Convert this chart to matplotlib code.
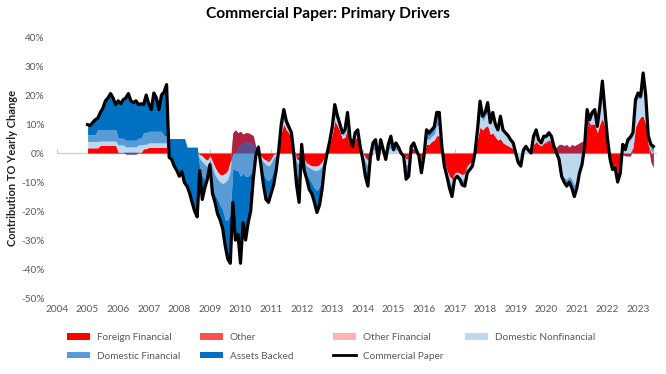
import numpy as np
import matplotlib
matplotlib.use("Agg")
import matplotlib.pyplot as plt
from matplotlib.patches import Patch
from matplotlib.lines import Line2D

plt.rcParams['font.family'] = ['Lato', 'DejaVu Sans']

start_year = 2005  # monthly observations from Jan 2005

commercial_paper = [
    9.8, 9.5, 10.5, 11.5, 12, 14, 15.5, 18, 19, 20.5, 19, 16.7,
    18, 17, 18.4, 19, 20.5, 18, 17.4, 18, 16.7, 17, 16.7, 20,
    17, 15, 20.7, 19, 15, 20, 21, 23.6, -1.5, -2.2, -4.5, -6,
    -8, -6.4, -10.2, -11.4, -13.7, -17, -20, -22, -6, -16, -12, -9,
    -4, -14, -17, -21, -23, -26, -32, -36.5, -38, -17, -30, -28,
    -38, -24, -30, -24, -20, -9, -1, 2, -4, -11, -16, -17,
    -14, -11, -6, 1, 10, 15, 11, 9, 7, -1, -11, -17,
    3, -6, -9, -12.6, -14, -17, -20.5, -18, -12.6, -4.5, 0, 4,
    9, 16.7, 13, 10, 7, 8, 14, 5, 2.3, 7, 8, 2,
    -2.2, -8, -11.4, -1, 3.5, 4.6, -2.2, 4.6, 1.2, -2.2, 3, 5.8,
    1.2, 3.5, 2, 0, -1, -9, -8, 2.3, 3.5, 1, -1, -6.8,
    -1, 8, 7, 8, 9, 14, 14, 2.3, -4.5, -8, -12, -15,
    -9, -8, -9, -11, -11.4, -6.8, -5.7, -4.5, 0, 8, 17.9, 12.7,
    14, 17.4, 10.5, 14, 10, 8, 12.7, 8, 7, 6, 4.6, 3.5,
    0, -3.3, -4.5, 1, 2.3, 1, 0, 5.8, 8, 4.6, 3.5, 5.8,
    5.8, 7, 5.8, 2.3, 0, -2.2, -8, -10, -11.4, -10, -12, -15,
    -12, -7, -4, 2, 15, 11.5, 14, 15, 9.2, 16, 24.8, 15,
    5, -2, -5.7, -5, -10, -7, 3, 1.2, 4.6, 5.5, 7, 18.4,
    20.7, 19.5, 27.6, 20, 6, 3, 2.3,
]

foreign_financial = [
    1.8, 1.8, 1.8, 1.8, 1.8, 2.7, 2.7, 2.7, 2.7, 2.7, 2.7, 2.7,
    0.3, 0.3, 0.3, 0.3, 0.3, 0.3, 0.3, 0.3, 0.3, 0.3, 1.5, 1.5,
    2, 2, 2, 2, 2, 2, 2, 2, 0, 0, 0, 0,
    0, 0, 0, 0, 0, 0, 0, 0, -0.5, -1, -2, -2.5,
    -1, -3, -5, -6.5, -7.5, -7.5, -7, -6, -3, 0, 0, 0,
    0, 0, 0, 0, 0, 0, 0, 0, -1, -2, -2.5, -2,
    -1, -0.5, 0, 1, 7, 10, 8, 7, 5, 1, -1, -1,
    0, -2, -3, -4, -4.5, -4.5, -4.5, -4, -3, -1, 0.5, 3,
    6.5, 11, 9.5, 7.5, 5, 5.5, 9, 3.5, 2, 5, 5.5, 1.5,
    0, 0, 0, 0, 0, 0, 0, 0, 0, 0, 0, 0,
    0, 0, 0, 0, 0, -1, -1, 0, 0, 0, -0.5, -1.5,
    -0.5, 3, 3, 4, 4.5, 6, 6, 1.5, -3, -6, -8, -9,
    -7, -6.5, -7, -7.5, -6, -4, -3.5, -3, 0, 5, 9, 8,
    9, 9.5, 6.5, 7, 5.5, 4.5, 5, 3.5, 3, 2.5, 2, 1.5,
    0, 0, 0, 0, 0, 0, 0, 3, 4, 3, 2.5, 3.5,
    3.5, 4, 3.5, 1.5, 0, 0, 0, 0, 0, 0, 0, 0,
    0, 0, 0, 0, 10, 9, 10, 10, 7, 10, 12, 9,
    4, -1.5, -4.5, -4, -6.5, -5, 0, 0, 0, 0, 2, 9,
    11, 12.5, 12.7, 10, 3, 0, 0,
]

other_financial = [
    0, 0, 0, 0, 0, 0, 0, 0, 0, 0, 0, 0,
    0, 0, 0, -0.7, -0.7, -0.7, -0.7, -0.7, 0, 0, 0, 0,
    0, 0, 0, 0, 0, 0, 0, 0, 0, 0, 0, 0,
    0, 0, 0, 0, 0, 0, 0, 0, 0, 0, 0, 0,
    0, 0, 0, 0, 0, 0, 0, 0, 0, 0, 0, 2,
    3, 3.5, 4, 4, 3.5, 3, 1, 0, 0, 0, 0, 0,
    0, 0, 0, 0, 0, 0, 0, 0, 0, 0, 0, 0,
    0, 0, 0, 0, 0, 0, 0, 0, 0, 0, 0, 0,
    0, 0, 0, 0, 0, 0, 0, 0, 0, 0, 0, 0,
    0, 0, 0, 0, 0, 0, 0, 0, 0, 0, 0, 0,
    0, 0, 0, 0, 0, 0, 0, 0, 0, 0, 0, 0,
    0, 0, 0, 0, 0, 0, 0, 0, 0, 0, 0, 0,
    0, 0, 0, 0, 0, 0, 0, 0, 0, 0, 0, 0,
    0, 0, 0, 0, 0, 0, 0, 0, 0, 0, 0, 0,
    0, 0, 0, 0, 0, 0, 0, 0, 0, 0, 0, 0,
    0, 0, 0, 0, 0, 0, 0, 0, 0, 0, 0, 0,
    0, 0, 0, 0, 0, 0, 0, 0, 0, 0, 0, 0,
    0, 0, -0.5, -0.5, -2, -1, 0, 0, 0, 0, 0, 0,
    0, 0, 0, 0, 0, 0, 0,
]

other = [
    0, 0, 0, 0, 0, 0, 0, 0, 0, 0, 0, 0,
    0, 0, 0, 0, 0, 0, 0, 0, 0, 0, 0, 0,
    0, 0, 0, 0, 0, 0, 0, 0, 0, 0, 0, 0,
    0, 0, 0, 0, 0, 0, 0, 0, 0, 0, 0, 0,
    0, 0, 0, 0, 0, 0, 0, 0, 0, 7, 8, 5,
    4.5, 3, 3, 3, 3, 3, 1, 0, 0, 0, 0, -1,
    -1, 0, 0, 0, 0, 0, 0, 0, 0, 0, -1, -1.5,
    0, -0.5, -0.5, 0, 0, 0, 0, 0, 0, -0.5, 0, 0,
    0, 0, 0, 0, 0, 0, 0, 0, 0, 0, 0, 0,
    0, -1.5, -2.5, -1.5, 0, 0, -1, 0, 0, -0.5, 0, 0,
    0, 0, 0, -0.5, -0.8, -1, -1, 1.5, 1.5, 0.5, 0, -1,
    0, 0, 0, 0, 0, 0, 0, 0, 0, 0, 0, 0,
    0, 0, 0, 0, -1, -0.5, 0, 0, 0, 0, 0, 0,
    0, 0, 0, 0, 0, 0, 0, 0, 0, 0, 0, 0,
    0, 0, 0, 0, 0, 0, 0, 0, 0, 0, 0, 0,
    0.5, 0.5, 0.5, 0.5, 2, 3, 3, 2.5, 3, 2, 3, 2.5,
    3, 3.5, 4, 4, 4, 1, 0, 0, 0, 0, 0, 0,
    0, 0, 0, 0, 0, 0, -0.5, -1, -1, -1, -0.5, 0,
    0, 0, 0, 0, 0, -3, -5,
]

domestic_nonfinancial = [
    2.2, 2.2, 2.2, 2.2, 2.2, 1.4, 1.4, 1.4, 1.4, 1.4, 1.4, 1.4,
    2.5, 2.5, 2.5, 2.5, 2.5, 2.5, 2.5, 2.5, 2.5, 2.5, 1.5, 1.5,
    1.5, 1.5, 1.5, 1.5, 1.5, 1.5, 1.5, 1.5, 0, 0, 0, 0,
    0, 0, 0, 0, 0, 0, 0, 0, -1.5, -2, -2, -2,
    -1, -2, -2.5, -2.5, -2.5, -3, -3, -3, -3, 0, 0, 0,
    0, 0, 0, 0, 0, 0, 0, 1, -1, -1, -1.5, -1.5,
    -1.5, -1, -1, 0, 1, 1.5, 1, 1, 1, 0, -1, -1.5,
    0, -0.5, -1, -1, -1, -1.5, -1.5, -1.5, -1.5, -1, 0, 0.5,
    1, 2, 1.5, 1, 1, 1.2, 2, 0.8, 0.3, 1, 1.2, 0.3,
    -0.7, -1.5, -2, 0, 1, 1.2, -0.5, 1.2, 0.4, -0.5, 1, 1.8,
    0.5, 1.2, 0.8, 0.3, -0.1, -2, -2, 0.3, 0.8, 0.2, -0.2, -1.5,
    -0.2, 2, 1.7, 1.8, 2, 3.5, 3.5, 0.5, -0.7, -1, -1.5, -2.5,
    -1, -0.8, -1, -1.5, -2, -1, -1, -0.7, 0, 2, 5, 3,
    3.5, 5, 3, 5, 3.5, 3, 5.5, 3.5, 3, 3, 2.3, 1.8,
    0, -2, -2.5, 0.5, 1.2, 0.5, 0, 1.5, 2.5, 1, 0.6, 1.5,
    1.2, 1.7, 1.2, 0.3, -2, -5, -10, -11, -12, -10, -12, -13.5,
    -12, -9, -7, -2, 0.5, 1, 3, 4, 1.7, 5, 10, 5,
    0.8, -0.3, -0.4, -0.3, -0.5, -0.5, 2.5, 1.5, 4.5, 5.5, 4.5, 8,
    8, 6, 11, 8, 2, 4, 5,
]

domestic_financial = [
    2.3, 2.3, 2.3, 2.3, 4, 4, 4, 4, 4, 4, 4, 4,
    2.3, 2.3, 2.3, 2.3, 2.3, 2.3, 2.3, 2.3, 2.3, 2.3, 4, 4,
    4, 4, 4, 4, 4, 4, 2.5, 2.5, 5, 5, 5, 5,
    5, 5, 5, 2, 2, 2, 2, 2, -3, -5, -5, -4,
    -1.5, -6, -7, -7, -8, -9, -13, -14, -15, -12, -14, -13,
    -15.5, -13.5, -15, -15, -13.5, -12, 0, 2, -1.5, -4, -5, -5,
    -5, -4.5, -3, 0, 0.5, 1, 0.5, 0.5, 0.5, -0.5, -4, -5,
    0, -2, -3, -4, -5, -6, -7, -6, -4, -1, -0.5, 0.3,
    0.5, 1.5, 1, 0.5, 0.5, 0.8, 1.5, 0.5, 0, 0.5, 0.8, 0.2,
    -0.7, -2.5, -3, 0, 1.5, 2, -0.5, 2, 0.5, -0.7, 1.2, 2.5,
    0.4, 1.5, 0.8, 0.2, -0.1, -2.5, -2, 0.3, 0.7, 0.2, -0.2, -1.5,
    -0.2, 1.5, 1.3, 1.2, 1.5, 2.5, 2.5, 0.3, -0.5, -0.5, -1, -1.5,
    -0.5, -0.4, -0.5, -1, -1.2, -0.7, -0.6, -0.4, 0, 0.5, 2, 1,
    1, 1.5, 0.5, 1, 0.5, 0.3, 1.2, 0.5, 0.5, 0.3, 0.2, 0.1,
    0, -0.8, -1, 0.3, 0.6, 0.3, 0, 0.7, 0.8, 0.3, 0.2, 0.4,
    0.3, 0.4, 0.3, 0, 0, -0.2, -0.5, -1, -1.4, -1, -1.5, -2,
    -1.5, -1, -0.5, 0, 0.3, 0.3, 0.5, 0.5, 0.3, 0.5, 1.5, 0.5,
    0.1, -0.1, -0.2, -0.1, -0.5, -0.3, 0.5, 0.4, 0.6, 0.5, 0.5, 0.8,
    1, 0.5, 2, 1, 0.5, 1, 1.3,
]

assets_backed = [
    3.5, 3.2, 4.2, 5.2, 4.0, 5.9, 7.4, 9.9, 10.9, 12.4, 10.9, 8.6,
    12.9, 11.9, 13.3, 14.6, 16.1, 13.6, 13.0, 13.6, 11.6, 11.9, 9.7, 13.0,
    9.5, 7.5, 13.2, 11.5, 7.5, 12.5, 15, 17.6, -6.5, -7.2, -9.5, -11,
    -13, -11.4, -15.2, -13.4, -15.7, -19, -22, -24, -1, -8, -3, -0.5,
    -0.5, -3, -2.5, -5, -5, -6.5, -9, -13.5, -17, -12, -24, -22,
    -30, -17, -22, -16, -13, -3, -3, -1, -0.5, -4, -7, -7.5,
    -5.5, -5, -2, 0, 1.5, 2.5, 1.5, 0.5, 0.5, -1.5, -4, -8,
    3, -1, -1.5, -3.6, -3.5, -5, -7.5, -6.5, -4.1, -1, 0, 0.2,
    1, 2.2, 1, 1, 0.5, 0.5, 1.5, 0.2, 0, 0.5, 0.5, 0,
    -0.8, -2.5, -3.9, 0.5, 1, 1.4, -0.2, 1.4, 0.3, -0.5, 0.8, 1.5,
    0.3, 0.8, 0.4, 0, 0, -2.5, -2, 0.2, 0.5, 0.1, -0.1, -1.3,
    -0.1, 1.5, 1, 1, 1, 2, 2, 0, -0.3, -0.5, -1.5, -2,
    -0.5, -0.3, -0.5, -1, -1.2, -0.6, -0.6, -0.4, 0, 0.5, 1.9, 0.7,
    0.5, 1.4, 0.5, 1, 0.5, 0.2, 1, 0.5, 0.5, 0.2, 0.1, 0.1,
    0, -0.5, -1, 0.2, 0.5, 0.2, 0, 0.6, 0.7, 0.3, 0.2, 0.4,
    0.3, 0.4, 0.3, 0, 0, 0, -0.5, -0.5, -1, -1, -1.5, -2,
    -1.5, -0.5, -0.5, 0, 0.2, 0.2, 0.5, 0.5, 0.2, 0.5, 1.3, 0.5,
    0.1, -0.1, -0.1, -0.1, -0.5, -0.2, 0.5, 0.3, 0.5, 0.5, 0.5, 0.6,
    0.7, 0.5, 1.9, 1, 0.5, 1, 1,
]

series_names = ["Foreign Financial", "Other", "Other Financial",
                "Domestic Nonfinancial", "Domestic Financial", "Assets Backed"]
legend_colors = ["#FF0000", "#FF5050", "#FFB3B3", "#BDD7EE", "#5B9BD5", "#0070C0"]
# colours in which the semi-transparent red series appear inside the plot
plot_colors = ["#FF0000", "#B2213F", "#5C4E8C", "#BDD7EE", "#5B9BD5", "#0070C0"]
year_ticks = list(range(2004, 2024))
y_ticks = list(range(-50, 41, 10))

n = len(commercial_paper)
t = start_year + np.arange(n) / 12.0

# Excel-style cumulative stacking order
stack_order = [foreign_financial, other_financial, other,
               domestic_nonfinancial, domestic_financial, assets_backed]
stack_idx = [0, 2, 1, 3, 4, 5]  # map stacking position -> series index
arr = np.array(stack_order, dtype=float)
cum = np.vstack([np.zeros(n), np.cumsum(arr, axis=0)])

fig = plt.figure(figsize=(6.66, 3.74), dpi=100)
ax = fig.add_axes([0.0856, 0.203, 0.9009, 0.698])

draw_sequence = [0, 3, 4, 5, 1, 2]  # opaque series first, red-family overlays last
for k, pos in enumerate(draw_sequence):
    si = stack_idx[pos]
    ax.fill_between(t, cum[pos], cum[pos + 1], color=plot_colors[si],
                    linewidth=0, zorder=2 + k * 0.1)

ax.axhline(0, color="#D0D0D0", linewidth=1.0, zorder=1.5)
ax.plot(t, commercial_paper, color="black", linewidth=2.3, zorder=5,
        solid_joinstyle="round")

ax.set_xlim(2004, 2023.62)
ax.set_ylim(-50, 40)
ax.set_yticks(y_ticks)
ax.set_yticklabels([f"{v}%" for v in y_ticks])
ax.set_xticks(year_ticks)
ax.set_xticklabels([str(y) for y in year_ticks])
for s in ax.spines.values():
    s.set_visible(False)
ax.tick_params(axis="both", length=0, labelsize=7.2, colors="#595959")
ax.tick_params(axis="y", pad=9)
ax.tick_params(axis="x", pad=5)

# year tick marks on the zero line
sec = ax.secondary_xaxis(50 / 90)
sec.set_xticks(year_ticks)
sec.set_xticklabels([])
sec.tick_params(axis="x", direction="out", length=3, color="#C8C8C8", width=0.8)
sec.spines["bottom"].set_visible(False)
sec.spines["top"].set_visible(False)

ax.set_ylabel("Contribution TO Yearly Change", fontsize=8, fontweight="bold",
              color="#222222", labelpad=2)
fig.text(0.492, 0.962, "Commercial Paper: Primary Drivers", ha="center", va="center",
         fontsize=11.2, fontweight="bold", color="black")

# legend entries laid out as in the reference (4 columns, 2 rows)
handles = [Patch(facecolor=c, edgecolor="none") for c in legend_colors]
handles.append(Line2D([0], [0], color="black", linewidth=2))
labels = series_names + ["Commercial Paper"]
col_x = [0.100, 0.300, 0.500, 0.698]
row_y = [0.097, 0.048]
for i, (h, lab) in enumerate(zip(handles, labels)):
    r, c = divmod(i, 4)
    fig.legend(handles=[h], labels=[lab], loc="center left",
               bbox_to_anchor=(col_x[c], row_y[r]), frameon=False,
               fontsize=7.2, handlelength=2.3, handleheight=0.65,
               handletextpad=0.7, borderpad=0, borderaxespad=0,
               labelcolor="#595959")

fig.savefig("out.png", dpi=100, facecolor="white")
